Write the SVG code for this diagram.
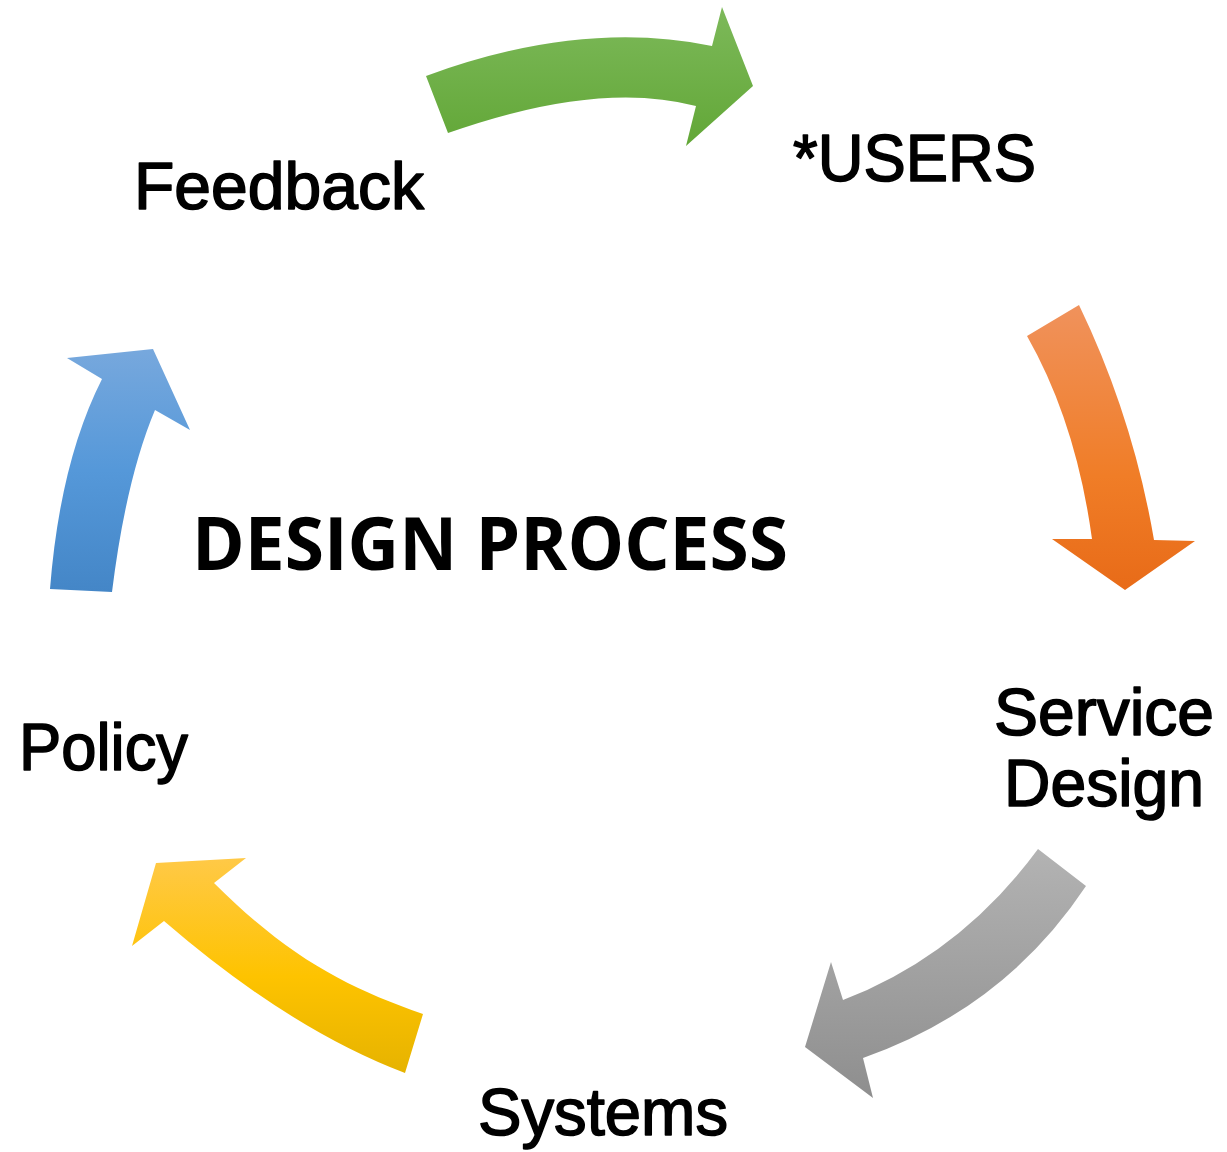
<svg xmlns="http://www.w3.org/2000/svg" width="1227" height="1152" viewBox="0 0 1227 1152">
  <style>
    .lbl { font-family: "Liberation Sans", Arial, sans-serif; font-size: 66px; fill: #000; stroke: #000; stroke-width: 1.6px; stroke-linejoin: round; }
    .title { font-family: "Open Sans", "Liberation Sans", sans-serif; font-weight: bold; font-size: 74px; fill: #000; }
  </style>
  <defs>
    <linearGradient id="gGreen" x1="0" y1="0" x2="0" y2="1">
      <stop offset="0" stop-color="#7db95a"/>
      <stop offset="1" stop-color="#62a737"/>
    </linearGradient>
    <linearGradient id="gOrange" x1="0" y1="0" x2="0" y2="1">
      <stop offset="0" stop-color="#f0925c"/>
      <stop offset="0.6" stop-color="#f07d27"/>
      <stop offset="1" stop-color="#e86b18"/>
    </linearGradient>
    <linearGradient id="gGray" x1="0" y1="0" x2="0" y2="1">
      <stop offset="0" stop-color="#b3b3b3"/>
      <stop offset="1" stop-color="#8e8e8e"/>
    </linearGradient>
    <linearGradient id="gYellow" x1="0" y1="0" x2="0" y2="1">
      <stop offset="0" stop-color="#ffc947"/>
      <stop offset="0.55" stop-color="#fec300"/>
      <stop offset="1" stop-color="#e6b300"/>
    </linearGradient>
    <linearGradient id="gBlue" x1="0" y1="0" x2="0" y2="1">
      <stop offset="0" stop-color="#77a8dd"/>
      <stop offset="0.5" stop-color="#5598d9"/>
      <stop offset="1" stop-color="#4486c7"/>
    </linearGradient>
  </defs>

  <g id="connectors">
    <path id="arrow-green" fill="url(#gGreen)" d="M426,76 Q581,19 712,46 L722,7 L753,86 L686,146 L696,106 Q598,80 448,133 Z"/>
    <path id="arrow-orange" fill="url(#gOrange)" d="M1027,336 L1079,305 Q1133,417 1154,540 L1195,541 L1125,590 L1052,539 L1092,539 Q1076,422 1027,336 Z"/>
    <path id="arrow-gray" fill="url(#gGray)" d="M1038,849 L1086,886 Q1005,1008 863,1058 L873,1098 L805,1047 L831,962 L843,1000 Q960,955 1038,849 Z"/>
    <path id="arrow-yellow" fill="url(#gYellow)" d="M423,1014 L405,1073 Q289,1029 164,921 L132,946 L156,863 L246,858 L214,883 C289,958 348,988 423,1014 Z"/>
    <path id="arrow-blue" fill="url(#gBlue)" d="M50,589 L112,592 Q126,479 155,410 L190,430 L153,349 L67,358 L102,379 Q60,462 50,589 Z"/>
  </g>

  <g id="node-title">
    <text class="title" x="192" y="570" textLength="596" lengthAdjust="spacingAndGlyphs">DESIGN PROCESS</text>
  </g>
  <g id="node-users">
    <text class="lbl" x="793" y="181" textLength="243" lengthAdjust="spacingAndGlyphs">*USERS</text>
  </g>
  <g id="node-service-design">
    <text class="lbl" x="994" y="735" textLength="220" lengthAdjust="spacingAndGlyphs">Service</text>
    <text class="lbl" x="1004" y="806" textLength="200" lengthAdjust="spacingAndGlyphs">Design</text>
  </g>
  <g id="node-systems">
    <text class="lbl" x="478" y="1135" textLength="250" lengthAdjust="spacingAndGlyphs">Systems</text>
  </g>
  <g id="node-policy">
    <text class="lbl" x="19" y="770" textLength="169" lengthAdjust="spacingAndGlyphs">Policy</text>
  </g>
  <g id="node-feedback">
    <text class="lbl" x="134" y="209" textLength="290" lengthAdjust="spacingAndGlyphs">Feedback</text>
  </g>
</svg>
